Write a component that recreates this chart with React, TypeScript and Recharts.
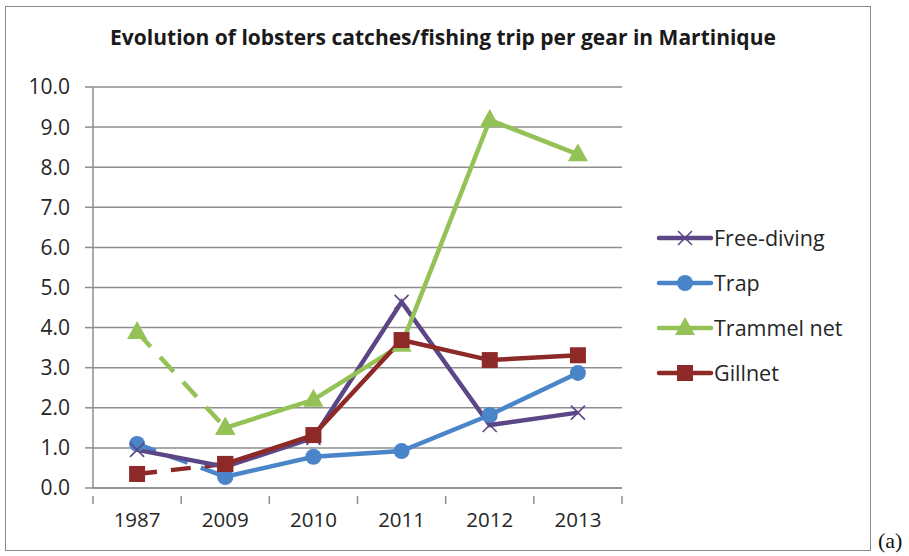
import React from "react"
import { LineChart, Line, XAxis, YAxis, CartesianGrid } from "recharts"

const years = ["1987", "2009", "2010", "2011", "2012", "2013"]
const freeDiving = [0.95, 0.53, 1.25, 4.64, 1.57, 1.88]
const trap = [1.1, 0.28, 0.78, 0.92, 1.82, 2.87]
const trammelNet = [3.89, 1.5, 2.2, 3.57, 9.18, 8.32]
const gillnet = [0.35, 0.6, 1.32, 3.69, 3.19, 3.31]
const yTicks = [0, 1, 2, 3, 4, 5, 6, 7, 8, 9, 10]
// Trap, Trammel net and Gillnet are dashed between the first two years
const dashedUntil = 1

const PURPLE = "#5c4786"
const BLUE = "#4a85c9"
const GREEN = "#94c256"
const RED = "#8d2a27"
const GRID = "#8e8e8e"
const FONT = "'Open Sans', Lato, sans-serif"

const rows = years.map((year, i) => ({
  idx: i,
  year,
  freeDiving: freeDiving[i],
  trap: i >= dashedUntil ? trap[i] : null,
  trapDash: i <= dashedUntil ? trap[i] : null,
  trammel: i >= dashedUntil ? trammelNet[i] : null,
  trammelDash: i <= dashedUntil ? trammelNet[i] : null,
  gillnet: i >= dashedUntil ? gillnet[i] : null,
  gillnetDash: i <= dashedUntil ? gillnet[i] : null,
}))

const xTicks: number[] = []
for (let i = -0.5; i <= years.length - 0.5; i += 0.5) xTicks.push(i)

type Shape = "x" | "circle" | "triangle" | "square"

const Marker = ({ shape, cx, cy, color }: { shape: Shape; cx: number; cy: number; color: string }) => {
  if (shape === "x") {
    const s = 7
    return (
      <g stroke={color} strokeWidth={1.6}>
        <line x1={cx - s} y1={cy - s} x2={cx + s} y2={cy + s} />
        <line x1={cx - s} y1={cy + s} x2={cx + s} y2={cy - s} />
      </g>
    )
  }
  if (shape === "circle") return <circle cx={cx} cy={cy} r={8} fill={color} />
  if (shape === "square") return <rect x={cx - 8} y={cy - 8} width={16} height={16} fill={color} />
  return <polygon points={`${cx},${cy - 11} ${cx + 10},${cy + 7} ${cx - 10},${cy + 7}`} fill={color} />
}

const makeDot = (shape: Shape, color: string) => (props: any) => {
  const { cx, cy, index, value } = props
  if (value == null || cx == null || cy == null) return <g key={`d-${index}`} />
  return <Marker key={`d-${index}`} shape={shape} cx={cx} cy={cy} color={color} />
}

const XTick = (props: any) => {
  const { x, y, payload } = props
  const v = payload.value as number
  if (Number.isInteger(v)) {
    return (
      <text x={x} y={y + 31} textAnchor="middle" fontSize={20.5} fill="#262626" fontFamily={FONT}>
        {years[v]}
      </text>
    )
  }
  return <line x1={x} y1={y} x2={x} y2={y + 8} stroke={GRID} strokeWidth={1.5} />
}

const legendItems: { name: string; color: string; shape: Shape }[] = [
  { name: "Free-diving", color: PURPLE, shape: "x" },
  { name: "Trap", color: BLUE, shape: "circle" },
  { name: "Trammel net", color: GREEN, shape: "triangle" },
  { name: "Gillnet", color: RED, shape: "square" },
]

const LegendBox = () => (
  <div style={{ position: "absolute", left: 656, top: 215, fontFamily: FONT, fontSize: 21.5, color: "#262626" }}>
    {legendItems.map((it) => (
      <div key={it.name} style={{ display: "flex", alignItems: "center", height: 45 }}>
        <svg width={58} height={24} style={{ marginRight: 0 }}>
          <line x1={3} y1={12} x2={55} y2={12} stroke={it.color} strokeWidth={4.5} strokeLinecap="round" />
          <Marker shape={it.shape} cx={29} cy={12} color={it.color} />
        </svg>
        <span>{it.name}</span>
      </div>
    ))}
  </div>
)

export default function App() {
  return (
    <div style={{ position: "absolute", left: 0, top: 0, width: 909, height: 556, background: "#fff" }}>
      <div
        style={{
          position: "absolute",
          left: 5,
          top: 6,
          width: 864,
          height: 543,
          border: "1px solid #8a8a8a",
        }}
      />
      <div
        style={{
          position: "absolute",
          left: 5,
          width: 876,
          top: 23,
          textAlign: "center",
          fontFamily: FONT,
          fontWeight: 700,
          fontSize: 21,
          color: "#1a1a1a",
        }}
      >
        Evolution of lobsters catches/fishing trip per gear in Martinique
      </div>
      <div
        style={{
          position: "absolute",
          left: 878,
          top: 528,
          fontFamily: "'Liberation Serif', serif",
          fontSize: 22,
          color: "#111",
        }}
      >
        (a)
      </div>
      <LineChart
        width={909}
        height={556}
        data={rows}
        margin={{ top: 87, right: 287, bottom: 28, left: 33 }}
        style={{ position: "absolute", left: 0, top: 0 }}
      >
        <CartesianGrid horizontal vertical={false} stroke={GRID} strokeWidth={1.5} />
        <XAxis
          dataKey="idx"
          type="number"
          domain={[-0.5, years.length - 0.5]}
          ticks={xTicks}
          interval={0}
          tick={<XTick />}
          tickLine={false}
          axisLine={{ stroke: GRID, strokeWidth: 1.5 }}
          height={40}
        />
        <YAxis
          domain={[0, 10]}
          ticks={yTicks}
          interval={0}
          width={60}
          tickFormatter={(v: number) => v.toFixed(1)}
          tick={{ fontSize: 21, fill: "#262626", fontFamily: FONT }}
          tickLine={{ stroke: GRID, strokeWidth: 1.5 }}
          tickSize={8}
          tickMargin={15}
          axisLine={{ stroke: GRID, strokeWidth: 1.5 }}
        />
        <Line dataKey="trapDash" stroke={BLUE} strokeWidth={4.5} strokeDasharray="20 14" dot={makeDot("circle", BLUE)} activeDot={false} isAnimationActive={false} />
        <Line dataKey="trammelDash" stroke={GREEN} strokeWidth={4.5} strokeDasharray="20 14" dot={makeDot("triangle", GREEN)} activeDot={false} isAnimationActive={false} />
        <Line dataKey="gillnetDash" stroke={RED} strokeWidth={4.5} strokeDasharray="20 14" dot={makeDot("square", RED)} activeDot={false} isAnimationActive={false} />
        <Line dataKey="freeDiving" name="Free-diving" stroke={PURPLE} strokeWidth={4.5} dot={makeDot("x", PURPLE)} activeDot={false} isAnimationActive={false} />
        <Line dataKey="trap" name="Trap" stroke={BLUE} strokeWidth={4.5} dot={makeDot("circle", BLUE)} activeDot={false} isAnimationActive={false} />
        <Line dataKey="trammel" name="Trammel net" stroke={GREEN} strokeWidth={4.5} dot={makeDot("triangle", GREEN)} activeDot={false} isAnimationActive={false} />
        <Line dataKey="gillnet" name="Gillnet" stroke={RED} strokeWidth={4.5} dot={makeDot("square", RED)} activeDot={false} isAnimationActive={false} />
      </LineChart>
      <LegendBox />
    </div>
  )
}
